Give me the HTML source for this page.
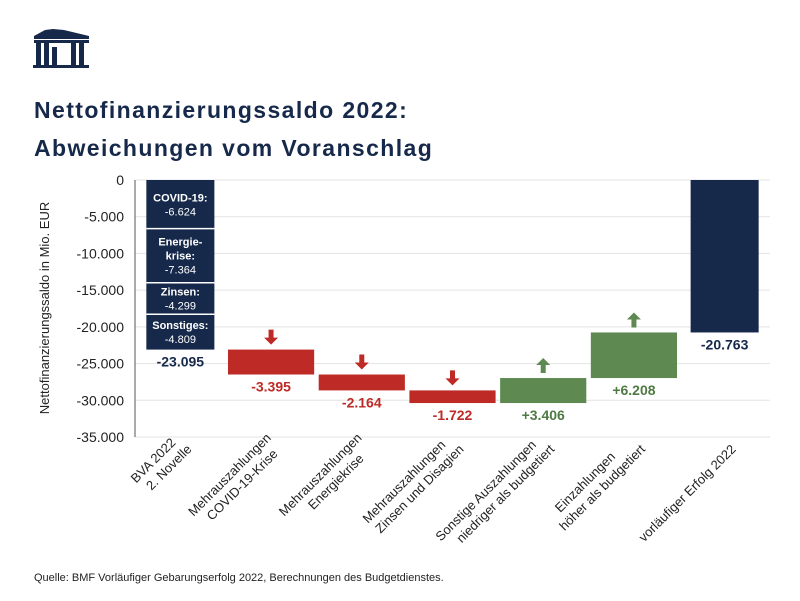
<!DOCTYPE html>
<html><head><meta charset="utf-8"><style>
body{margin:0;background:#fff;}
svg{display:block;font-family:"Liberation Sans",sans-serif;}
</style></head><body>
<svg id="c" width="800" height="601" viewBox="0 0 800 601">
<g fill="#16294a">
<path d="M34 36 L45 30 L53 29 L64 30 L89 36 L89 39 L34 39 Z"/>
<rect x="34" y="40" width="55" height="3"/>
<rect x="36" y="43" width="5" height="23"/><rect x="44" y="43" width="5" height="23"/>
<rect x="52" y="47" width="5" height="19"/><rect x="71" y="43" width="5" height="23"/><rect x="79" y="43" width="5" height="23"/>
<rect x="33" y="65" width="56" height="3"/>
</g>
<text x="34" y="118" font-size="23" font-weight="bold" fill="#16294a" letter-spacing="1.4">Nettofinanzierungssaldo 2022:</text>
<text x="34" y="156" font-size="23" font-weight="bold" fill="#16294a" letter-spacing="1.4">Abweichungen vom Voranschlag</text>
<text transform="translate(49,308) rotate(-90)" text-anchor="middle" font-size="13" fill="#222">Nettofinanzierungssaldo in Mio. EUR</text>
<g id="grid"></g><g id="bars"></g><g id="xl"></g>
<text x="34" y="581" font-size="11" fill="#222">Quelle: BMF Vorläufiger Gebarungserfolg 2022, Berechnungen des Budgetdienstes.</text>
</svg>
<script>
const categories=[["BVA 2022","2. Novelle"],["Mehrauszahlungen","COVID-19-Krise"],["Mehrauszahlungen","Energiekrise"],["Mehrauszahlungen","Zinsen und Disagien"],["Sonstige Auszahlungen","niedriger als budgetiert"],["Einzahlungen","höher als budgetiert"],["vorläufiger Erfolg 2022"]];
const deltas=[-23095,-3395,-2164,-1722,3406,6208,-20763];
const kinds=["total","delta","delta","delta","delta","delta","total"];
const labels=["-23.095","-3.395","-2.164","-1.722","+3.406","+6.208","-20.763"];
const segNames=["COVID-19:","Energie-|krise:","Zinsen:","Sonstiges:"];
const segValues=[-6624,-7364,-4299,-4809];
const segLabels=["-6.624","-7.364","-4.299","-4.809"];
const ticks=[0,-5000,-10000,-15000,-20000,-25000,-30000,-35000];
const tickLabels=["0","-5.000","-10.000","-15.000","-20.000","-25.000","-30.000","-35.000"];
const NS="http://www.w3.org/2000/svg";
const X0=135,X1=770,Y0=180,Y1=437,MIN=-35000;
const y=v=>Y0+(v/MIN)*(Y1-Y0);
const bw=(X1-X0)/categories.length;
const cx=i=>X0+bw*(i+0.5);
function mk(t,a,p,txt){const e=document.createElementNS(NS,t);for(const k in a)e.setAttribute(k,a[k]);if(txt!==undefined)e.textContent=txt;p.appendChild(e);return e;}
const grid=document.getElementById('grid'),bars=document.getElementById('bars'),xl=document.getElementById('xl');
ticks.forEach((t,i)=>{
 const l=mk('line',{x1:X0,x2:X1,y1:y(t),y2:y(t),stroke:'#e3e3e3'},grid);
 
 
 const tx=mk('text',{x:124,y:y(t)+5,'text-anchor':'end','font-size':14,fill:'#222'},grid,tickLabels[i]);
 
 
});
const ax=mk('line',{x1:X0,x2:X0,y1:Y0,y2:Y1,stroke:'#555'},grid);


let run=0;
deltas.forEach((d,i)=>{
 let top,bot,col,lc;
 const w=kinds[i]=="total"?bw*0.75:bw*0.95;
 if(kinds[i]=="total"){top=y(0);bot=y(d);col='#16294a';lc='#16294a';run=d;}
 else{const a=run,b=run+d;run=b;top=y(Math.max(a,b));bot=y(Math.min(a,b));col=d<0?'#be2a26':'#5e8a52';lc=d<0?'#be2a26':'#4f7a43';}
 const r=mk('rect',{x:cx(i)-w/2,y:top,width:w,height:bot-top,fill:col},bars);
 
 
 const t=mk('text',{x:cx(i),y:bot+17,'text-anchor':'middle','font-size':14,'font-weight':'bold',fill:lc},bars,labels[i]);
 
 
 if(kinds[i]=="delta"){
  const c=cx(i),b=top-5;let p;
  if(d<0)p=`M${c-2.5} ${b-15}h5v8h4.5l-7 7l-7-7h4.5z`;
  else p=`M${c-2.5} ${b}v-8h-4.5l7-7l7 7h-4.5v8z`;
  const ar=mk('path',{d:p,fill:col},bars);
  
  
 }
 const lines=categories[i];
 const W=s=>s.length*6.6;
 const maxW=Math.max(...lines.map(W));
 const g=mk('text',{transform:`translate(${cx(i)+12},450) rotate(-45)`,'text-anchor':'end','font-size':13,fill:'#222'},xl);
 
 
 lines.forEach((s,j)=>{mk('tspan',{x:-(maxW-W(s))/2,y:(j-(lines.length-1))*16},g,s);});
});
let acc=0;const w0=bw*0.75;
segValues.forEach((v,k)=>{
 const a=y(acc),b=y(acc+v);acc+=v;
 if(k>0){const l=mk('line',{x1:cx(0)-w0/2,x2:cx(0)+w0/2,y1:a,y2:a,stroke:'#fff','stroke-width':1.5},bars);
  }
 const nm=segNames[k].split('|');const h=(nm.length+1)*14;const m=(a+b)/2-h/2+11;
 nm.forEach((s,j)=>{const t=mk('text',{x:cx(0),y:m+j*14,'text-anchor':'middle','font-size':11,'font-weight':'bold',fill:'#fff'},bars,s);
  });
 const t=mk('text',{x:cx(0),y:m+nm.length*14,'text-anchor':'middle','font-size':11,fill:'#fff'},bars,segLabels[k]);
 
});
</script>
</body></html>
